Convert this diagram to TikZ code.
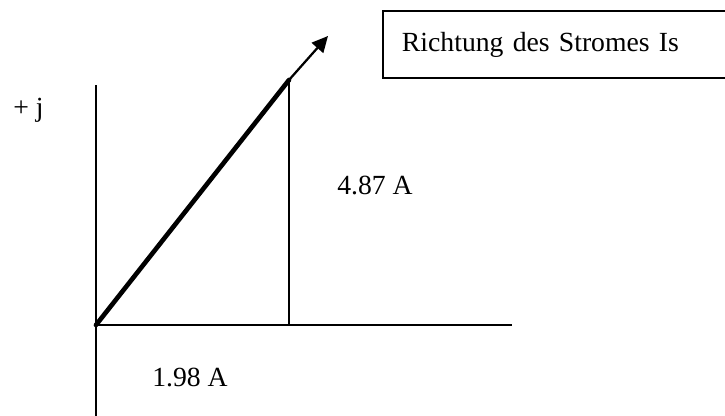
\documentclass[tikz,border=0pt]{standalone}
\usepackage{fontspec}
\setmainfont{Liberation Serif}
\usepackage{tikz}
\usetikzlibrary{arrows.meta}

\begin{document}
\begin{tikzpicture}[
    font=\fontsize{19.7}{24}\selectfont,
    >={Triangle[length=0.4cm, width=0.38cm]},
    axis/.style={line width=1.4pt},
    lbl/.style={anchor=base west, inner sep=0pt}
]

\clip (0,0) rectangle (18.125,10.4);

\coordinate (O)    at (2.4, 2.275);
\coordinate (ybot) at (2.4, 0);
\coordinate (ytop) at (2.4, 8.275);
\coordinate (xend) at (12.8, 2.275);
\coordinate (re)   at (7.225, 2.275);
\coordinate (im)   at (7.225, 8.45);
\coordinate (mid)  at (7.225, 8.4);
\coordinate (tip)  at (8.2, 9.5);

\draw[axis] (ybot) -- (ytop);
\draw[axis] (O) -- (xend);
\draw[axis] (re) -- (im);

\draw[line width=3.3pt, line cap=round] (O) -- (mid);
\draw[->, line width=1.6pt] (mid) -- (tip);

\node[draw, line width=1.4pt, anchor=west, inner xsep=0.475cm, minimum height=1.675cm,
      text width=8cm, align=left] (dir) at (9.55, 9.2875) {Richtung des Stromes Is};

\node[lbl] (imag) at (0.325, 7.475) {+ j};
\node[lbl] (vim)  at (8.425, 5.525) {4.87 A};
\node[lbl] (vre)  at (3.8, 0.725) {1.98 A};

\end{tikzpicture}
\end{document}
